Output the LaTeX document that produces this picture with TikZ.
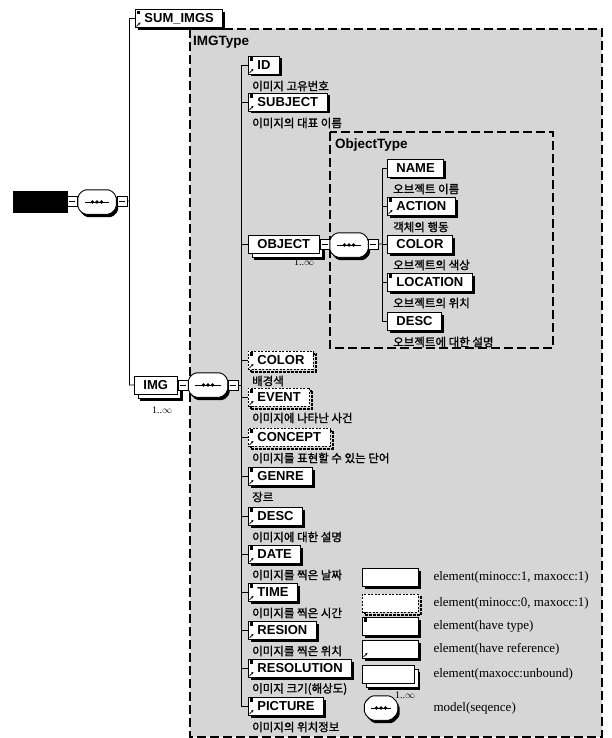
\documentclass[tikz,border=0pt]{standalone}
\usepackage{fontspec}
\setmainfont{Liberation Serif}
\setsansfont{Liberation Sans}
\newfontfamily\krfont[FakeBold=1.2]{Noto Sans CJK KR}
\usetikzlibrary{arrows.meta,shadows}
\newcommand{\boxfont}{\sffamily\bfseries\fontsize{13}{15}\selectfont}
\newcommand{\notefont}{\krfont\fontsize{11.5}{13}\selectfont}
\newcommand{\legfont}{\rmfamily\fontsize{13}{15}\selectfont}
\tikzset{
  xs base/.style={draw,fill=white,line width=0.9pt,font=\boxfont,
    inner xsep=9pt,inner ysep=0pt,minimum height=18pt,anchor=west},
  xs box/.style={xs base,
    drop shadow={shadow xshift=2.5pt,shadow yshift=-2.5pt,fill=black,opacity=1}},
  xs opt/.style={xs base,dash pattern=on 2pt off 1.5pt,
    drop shadow={shadow xshift=2.5pt,shadow yshift=-2.5pt,fill=none,draw=black,
      line width=2pt,dash pattern=on 3pt off 1pt,opacity=1}},
  xs many/.style={xs base,
    drop shadow={shadow xshift=6pt,shadow yshift=-7pt,fill=black,opacity=1},
    copy shadow={shadow xshift=3.5pt,shadow yshift=-4.5pt,fill=white,draw=black,
      line width=0.8pt,opacity=1}},
  xs plug/.style={draw,fill=white,line width=0.8pt,minimum width=10pt,
    minimum height=10pt,inner sep=0pt,
    path picture={\draw[line width=0.7pt]
      ([xshift=2pt]path picture bounding box.west) --
      ([xshift=-2pt]path picture bounding box.east);}},
  xs seq/.style={minimum height=24pt,inner sep=0pt},
  xs note/.style={font=\notefont,anchor=west,inner sep=0pt},
  xs many note/.style={font=\rmfamily\fontsize{10}{11}\selectfont,anchor=west,inner sep=0pt},
  xs type/.style={font=\sffamily\bfseries\fontsize{13.5}{15}\selectfont,anchor=west,inner sep=0pt},
  xs bus/.style={line width=0.8pt},
  xs area/.style={fill=black!16,draw=black,line width=1.2pt,dash pattern=on 9pt off 4pt}
}
\newcommand{\typemark}[1]{\fill (#1.north west) ++(1.5,1.5) rectangle ++(3.5,3.5);}
\newcommand{\refmark}[1]{\draw[solid,line width=0.7pt,-{Stealth[length=2.5pt,width=2.5pt]}]
  (#1.south west) ++(1.5,-1.5) -- ++(4,-4);}
% sequence compositor: name, position, width, chamfer
\newcommand{\seqpath}[2]{([shift={(#2,0)}]#1.north west) -- ([shift={(-#2,0)}]#1.north east)
  -- ([shift={(0,#2)}]#1.north east) -- ([shift={(0,-#2)}]#1.south east)
  -- ([shift={(-#2,0)}]#1.south east) -- ([shift={(#2,0)}]#1.south west)
  -- ([shift={(0,-#2)}]#1.south west) -- ([shift={(0,#2)}]#1.north west) -- cycle}
\newcommand{\seqat}[4]{%
  \node[xs seq,minimum width=#3pt] (#1) at (#2) {};
  \fill[transform canvas={xshift=2pt,yshift=-3pt},rounded corners=2pt] \seqpath{#1}{#4};
  \draw[fill=white,line width=0.9pt,rounded corners=2pt] \seqpath{#1}{#4};
  \draw[line width=0.8pt] ([xshift=7]#1.west) -- ([xshift=-7]#1.east);
  \foreach \dx in {-4.5,0,4.5}
    \fill ([xshift=\dx]#1.center) circle (1.8);
}

\begin{document}
\begin{tikzpicture}[x=1pt,y=-1pt]
  \useasboundingbox (0,0) rectangle (611,738);
  % the two type areas
  \draw[xs area] (190,29) rectangle (602,737);
  \node[xs type] (imgtype) at (193,42) {IMGType};
  \draw[xs area] (330,132) rectangle (553,348);
  \node[xs type] (objtype) at (335,145) {ObjectType};

  % root
  \node[draw,fill=black,minimum width=54pt,minimum height=21pt,anchor=west] (root) at (13,202) {};
  \node[xs plug] (rootin) at (72,201) {};
  \seqat{rootseq}{97,202}{38}{6}
  \node[xs plug] (rootout) at (122,201) {};
  \node[xs box] (sumimgs) at (135,18.5) {SUM\_IMGS};
  \typemark{sumimgs}\refmark{sumimgs}
  \node[xs many] (img) at (134,385) {IMG};
  \node[xs many note] (imgmany) at (152,410) {1..$\infty$};
  \draw[xs bus] (rootin) -- (rootseq) (rootseq) -- (rootout)
    (rootout.east) -- ++(2,0) coordinate (rb) |- (sumimgs.west)
    (rb) |- (img.west);

  % IMGType
  \node[xs plug] (imgin) at (183,385) {};
  \seqat{imgseq}{208,385}{39}{6}
  \node[xs plug] (imgout) at (233,385) {};
  \draw[xs bus] (img.east) -- (imgin) (imgin) -- (imgseq) (imgseq) -- (imgout)
    (imgout.east) -- ++(3,0) coordinate (ib);
  \node[xs many] (object) at (248,244) {OBJECT};
  \node[xs many note] (objmany) at (294,262) {1..$\infty$};
  \draw[xs bus] (ib) |- (object.west);
  \foreach \nm/\tx/\yy/\st/\desc in {
      id/ID/65/xs box/이미지 고유번호,
      subject/SUBJECT/102/xs box/이미지의 대표 이름,
      color/COLOR/360/xs opt/배경색,
      event/EVENT/397/xs opt/이미지에 나타난 사건,
      concept/CONCEPT/437/xs opt/이미지를 표현할 수 있는 단어,
      genre/GENRE/476/xs box/장르,
      desc/DESC/516/xs box/이미지에 대한 설명,
      date/DATE/554/xs box/이미지를 찍은 날짜,
      time/TIME/592/xs box/이미지를 찍은 시간,
      resion/RESION/630/xs box/이미지를 찍은 위치,
      resolution/RESOLUTION/668/xs box/{이미지 크기(해상도)},
      picture/PICTURE/706/xs box/이미지의 위치정보}{
    \node[\st] (\nm) at (248,\yy) {\tx};
    \typemark{\nm}\refmark{\nm}
    \node[xs note] (\nm-d) at (252,\yy+21) {\desc};
    \draw[xs bus] (ib) |- (\nm.west);
  }

  % ObjectType
  \node[xs plug] (objin) at (325,244) {};
  \seqat{objseq}{349,245}{38}{6}
  \node[xs plug] (objout) at (373,244) {};
  \draw[xs bus] (object.east) -- (objin) (objin) -- (objseq) (objseq) -- (objout)
    (objout.east) -- ++(4,0) coordinate (ob);
  \foreach \nm/\tx/\yy/\desc in {
      oname/NAME/168/오브젝트 이름,
      oaction/ACTION/206/객체의 행동,
      ocolor/COLOR/244/오브젝트의 색상,
      olocation/LOCATION/282/오브젝트의 위치,
      odesc/DESC/321/오브젝트에 대한 설명}{
    \node[xs box] (\nm) at (387,\yy) {\tx};
    \node[xs note] (\nm-d) at (393,\yy+21) {\desc};
    \draw[xs bus] (ob) |- (\nm.west);
  }
  \typemark{oaction}\refmark{oaction}
  \typemark{olocation}

  % legend
  \node[xs box,minimum width=56pt] (lgone) at (362,577) {};
  \node[xs opt,minimum width=56pt] (lgopt) at (362,603) {};
  \node[xs box,minimum width=56pt] (lgtype) at (362,626) {};
  \typemark{lgtype}
  \node[xs box,minimum width=56pt] (lgref) at (362,649) {};
  \refmark{lgref}
  \node[xs many,minimum width=52pt] (lgmany) at (362,674) {};
  \node[xs many note] (lgmanyn) at (395,695) {1..$\infty$};
  \seqat{lgseq}{381,708}{33}{7}
  \node[font=\legfont,anchor=west] (lgone-t) at (430,577) {element(minocc:1, maxocc:1)};
  \node[font=\legfont,anchor=west] (lgopt-t) at (430,603) {element(minocc:0, maxocc:1)};
  \node[font=\legfont,anchor=west] (lgtype-t) at (430,626) {element(have type)};
  \node[font=\legfont,anchor=west] (lgref-t) at (430,649) {element(have reference)};
  \node[font=\legfont,anchor=west] (lgmany-t) at (430,674) {element(maxocc:unbound)};
  \node[font=\legfont,anchor=west] (lgseq-t) at (430,708) {model(seqence)};
\end{tikzpicture}
\end{document}
